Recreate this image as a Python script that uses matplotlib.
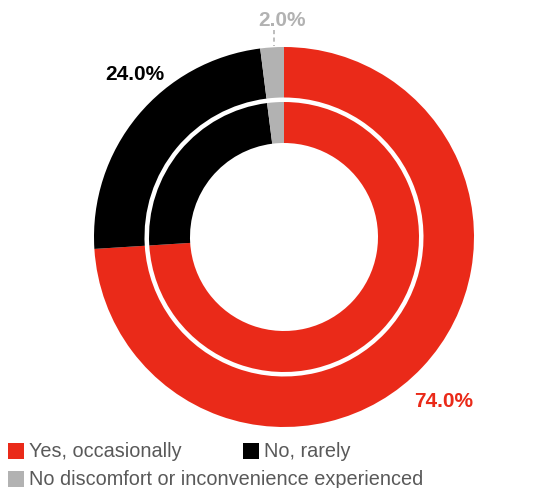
import matplotlib
matplotlib.use("Agg")
import matplotlib.pyplot as plt
from matplotlib.patches import Rectangle

plt.rcParams['font.family'] = ['Liberation Sans', 'DejaVu Sans']

# survey answers, clockwise from 12 o'clock
labels = ['Yes, occasionally', 'No, rarely', 'No discomfort or inconvenience experienced']
shares = [74.0, 24.0, 2.0]
colors = ['#EA2A19', '#000000', '#B2B2B2']

W, H = 560, 489
fig = plt.figure(figsize=(W / 100, H / 100), dpi=100)
ax = fig.add_axes([0, 0, 1, 1])

cx, cy = 284, H - 238

# outer ring
ax.pie(shares, colors=colors, startangle=90, counterclock=False,
       radius=190, center=(cx, cy), frame=True,
       wedgeprops=dict(width=50.5, linewidth=0))
# inner ring
ax.pie(shares, colors=colors, startangle=90, counterclock=False,
       radius=135, center=(cx, cy), frame=True,
       wedgeprops=dict(width=41, linewidth=0))
ax.set_xlim(0, W)
ax.set_ylim(0, H)
ax.set_aspect('equal')
ax.axis('off')

# value labels
lab_pos = [(444, H - 402), (135, H - 75), (282, H - 21)]
for v, c, (x, y) in zip(shares, colors, lab_pos):
    ax.text(x, y, f'{v:.1f}%', color=c, fontsize=15, fontweight='bold',
            ha='center', va='center')
# leader for the small slice
ax.plot([274, 274], [H - 31, H - 47], color=colors[2], lw=1.2, ls=(0, (2.5, 2)))

# legend
leg_pos = [(8, 452), (243, 452), (8, 480)]
for lab, c, (x, y) in zip(labels, colors, leg_pos):
    ax.add_patch(Rectangle((x, H - y - 8), 16, 16, color=c, lw=0))
    ax.text(x + 21, H - y, lab, color='#595959', fontsize=14.3,
            ha='left', va='center')

fig.savefig('out.png', dpi=100)
